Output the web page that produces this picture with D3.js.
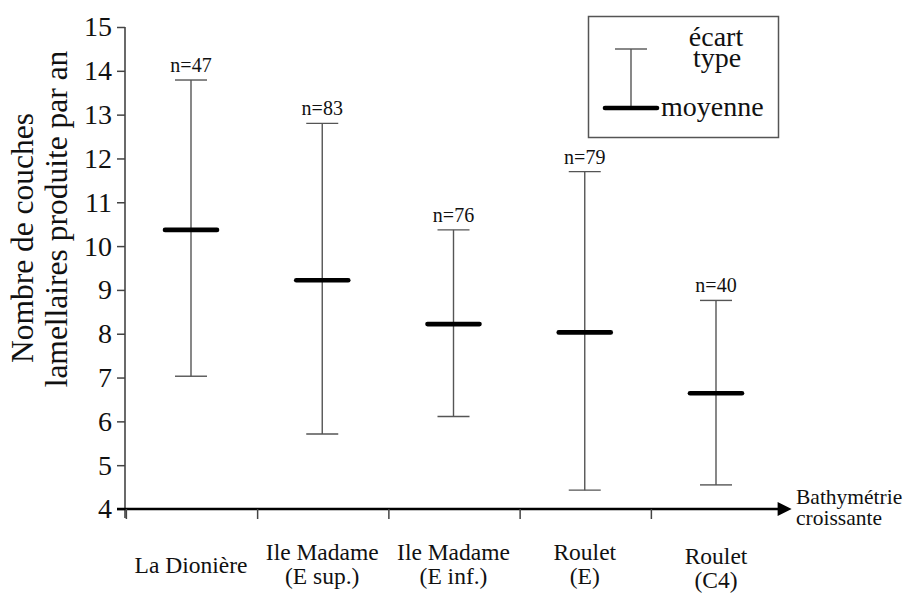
<!DOCTYPE html>
<html>
<head>
<meta charset="utf-8">
<script src="https://cdn.jsdelivr.net/npm/d3@7"></script>
<style>
  html, body { margin: 0; padding: 0; background: #fff; }
  svg { display: block; }
  svg text { font-family: "Liberation Serif", serif !important; fill: #111; }
</style>
</head>
<body>
<svg id="chart" width="908" height="594" font-family="Liberation Serif, serif"></svg>
<script>
// Stations, ordered by increasing depth
const sites = ["La Dionière", "Ile Madame|(E sup.)", "Ile Madame|(E inf.)", "Roulet|(E)", "Roulet|(C4)"];
// Mean number of lamellar layers produced per year
const means = [10.37, 9.22, 8.22, 8.03, 6.64];
// Standard deviation range (upper / lower bounds)
const upper = [13.79, 12.80, 10.37, 11.70, 8.76];
const lower = [7.03, 5.71, 6.11, 4.43, 4.55];
// Sample sizes
const counts = [47, 83, 76, 79, 40];
// Y axis ticks
const yTicks = [4, 5, 6, 7, 8, 9, 10, 11, 12, 13, 14, 15];

const SERIF = "Liberation Serif, serif";
const svg = d3.select("#chart");

const y = d3.scaleLinear().domain([4, 15]).range([509, 27]);
const x = d3.scalePoint().domain(sites).range([191, 716]);
const step = x.step();
const axisX = 125;

const rows = sites.map((s, i) => ({ site: s, mean: means[i], hi: upper[i], lo: lower[i], n: counts[i] }));

// Y axis
const yAxis = svg.append("g")
  .attr("transform", `translate(${axisX},0)`)
  .call(d3.axisLeft(y).tickValues(yTicks).tickSize(8).tickPadding(5).tickFormat(d3.format("d")));
yAxis.attr("font-family", SERIF);
yAxis.select(".domain").remove();
yAxis.selectAll(".tick line").attr("stroke", "#444").attr("stroke-width", 1.5);
yAxis.selectAll(".tick text").attr("font-size", 28).attr("fill", "#111");
yAxis.append("line")
  .attr("x1", 0).attr("x2", 0).attr("y1", y(15)).attr("y2", y(4) + 9)
  .attr("stroke", "#444").attr("stroke-width", 1.6);

// Y axis title (two lines)
svg.append("text")
  .attr("transform", `translate(33,238) rotate(-90)`)
  .attr("text-anchor", "middle")
  .attr("font-family", SERIF)
  .attr("font-size", 31.5)
  .text("Nombre de couches");
svg.append("text")
  .attr("transform", `translate(67,219) rotate(-90)`)
  .attr("text-anchor", "middle")
  .attr("font-family", SERIF)
  .attr("font-size", 31.5)
  .text("lamellaires produite par an");

// X axis with arrow head
svg.append("defs").append("marker")
  .attr("id", "arrow")
  .attr("viewBox", "0 0 10 10")
  .attr("refX", 1).attr("refY", 5)
  .attr("markerWidth", 5.6).attr("markerHeight", 5.4)
  .attr("markerUnits", "strokeWidth")
  .attr("orient", "auto")
  .append("path").attr("d", "M0,0 L10,5 L0,10 Z").attr("fill", "#000");

svg.append("line")
  .attr("x1", axisX - 8).attr("x2", 779)
  .attr("y1", y(4)).attr("y2", y(4))
  .attr("stroke", "#000").attr("stroke-width", 2.6)
  .attr("marker-end", "url(#arrow)");

// Category separator ticks under the axis
svg.append("g").selectAll("line")
  .data(sites)
  .join("line")
  .attr("x1", d => x(d) - step / 2 + 1).attr("x2", d => x(d) - step / 2 + 1)
  .attr("y1", y(4)).attr("y2", y(4) + 10)
  .attr("stroke", "#444").attr("stroke-width", 1.5);

// Category labels (one or two lines)
const catLabels = svg.append("g").selectAll("text")
  .data(rows)
  .join("text")
  .attr("text-anchor", "middle")
  .attr("font-family", SERIF)
  .attr("font-size", 23.5)
  .attr("transform", d => `translate(${x(d.site)},0)`);
catLabels.each(function (d) {
  const parts = d.site.split("|");
  const t = d3.select(this);
  if (parts.length === 1) {
    t.append("tspan").attr("x", 0).attr("y", 573).text(parts[0]);
  } else {
    const base = parts[1] === "(C4)" ? 564 : 560;
    t.append("tspan").attr("x", 0).attr("y", base).text(parts[0]);
    t.append("tspan").attr("x", 0).attr("y", base + 24).text(parts[1]);
  }
});

// Axis direction label
svg.append("text").attr("x", 796).attr("y", 504)
  .attr("font-family", SERIF).attr("font-size", 21.5).text("Bathymétrie");
svg.append("text").attr("x", 796).attr("y", 525)
  .attr("font-family", SERIF).attr("font-size", 21.5).text("croissante");

// Error bars
const capHalf = 16, meanHalf = 26;
const bars = svg.append("g").selectAll("g")
  .data(rows)
  .join("g")
  .attr("transform", d => `translate(${x(d.site)},0)`);

bars.append("line")
  .attr("x1", 0).attr("x2", 0)
  .attr("y1", d => y(d.hi)).attr("y2", d => y(d.lo))
  .attr("stroke", "#555").attr("stroke-width", 1.4);
bars.append("line")
  .attr("x1", -capHalf).attr("x2", capHalf)
  .attr("y1", d => y(d.hi)).attr("y2", d => y(d.hi))
  .attr("stroke", "#555").attr("stroke-width", 1.4);
bars.append("line")
  .attr("x1", -capHalf).attr("x2", capHalf)
  .attr("y1", d => y(d.lo)).attr("y2", d => y(d.lo))
  .attr("stroke", "#555").attr("stroke-width", 1.4);
bars.append("line")
  .attr("x1", -meanHalf).attr("x2", meanHalf)
  .attr("y1", d => y(d.mean)).attr("y2", d => y(d.mean))
  .attr("stroke", "#000").attr("stroke-width", 4.6)
  .attr("stroke-linecap", "round");
bars.append("text")
  .attr("x", 0)
  .attr("y", d => y(d.hi) - 8)
  .attr("text-anchor", "middle")
  .attr("font-family", SERIF)
  .attr("font-size", 20)
  .text(d => `n=${d.n}`);

// Legend
const lg = svg.append("g");
lg.append("rect")
  .attr("x", 588.5).attr("y", 16.5).attr("width", 190).attr("height", 121)
  .attr("fill", "none").attr("stroke", "#555").attr("stroke-width", 1.5);
lg.append("line").attr("x1", 631).attr("x2", 631).attr("y1", 49).attr("y2", 108)
  .attr("stroke", "#555").attr("stroke-width", 1.4);
lg.append("line").attr("x1", 631 - capHalf).attr("x2", 631 + capHalf).attr("y1", 49).attr("y2", 49)
  .attr("stroke", "#555").attr("stroke-width", 1.4);
lg.append("line").attr("x1", 631 - meanHalf).attr("x2", 631 + meanHalf).attr("y1", 108).attr("y2", 108)
  .attr("stroke", "#000").attr("stroke-width", 4.6).attr("stroke-linecap", "round");
lg.append("text").attr("x", 716).attr("y", 46).attr("text-anchor", "middle")
  .attr("font-family", SERIF).attr("font-size", 28).text("écart");
lg.append("text").attr("x", 717).attr("y", 67).attr("text-anchor", "middle")
  .attr("font-family", SERIF).attr("font-size", 28).text("type");
lg.append("text").attr("x", 661).attr("y", 116).attr("text-anchor", "start")
  .attr("font-family", SERIF).attr("font-size", 28).text("moyenne");
</script>
</body>
</html>
